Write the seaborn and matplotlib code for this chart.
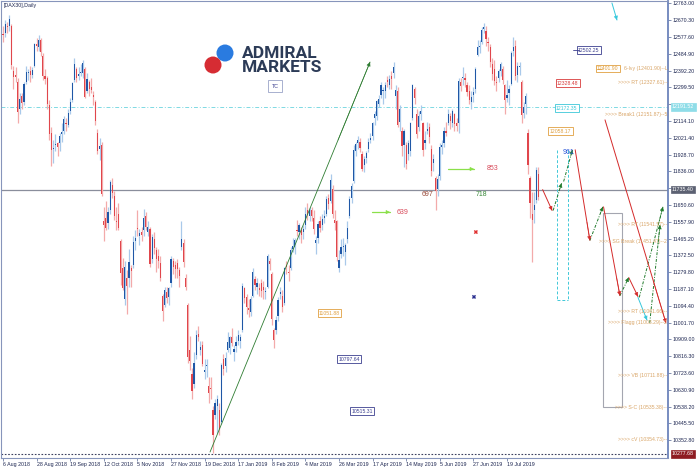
import numpy as np
import pandas as pd
import matplotlib
matplotlib.use('Agg')
import matplotlib.pyplot as plt
from matplotlib.patches import Ellipse, Rectangle
import seaborn as sns

# DAX30 daily candles, 6 Aug 2018 .. 9 Aug 2019
opens = [
    12590, 12600, 12640, 12640, 12640, 12390, 12370, 12330, 12180, 12250, 12220, 12330, 12380, 12390, 12370, 12420, 12540, 12520, 12560, 12470,
    12360, 12350, 12200, 12050, 11960, 11980, 11990, 11990, 12040, 12060, 12100, 12090, 12170, 12230, 12340, 12400, 12360, 12380, 12380, 12400,
    12280, 12330, 12300, 12260, 12220, 12050, 11960, 11980, 11560, 11580, 11550, 11620, 11760, 11700, 11560, 11600, 11450, 11300, 11130, 11250, 11250, 11300, 11320,
    11450, 11520, 11480, 11500, 11510, 11590, 11500, 11520, 11350, 11460, 11400, 11370, 11330, 11150, 11100, 11170, 11140, 11220, 11340, 11320, 11330, 11290,
    11420, 11440, 11250, 11100, 10850, 10720, 10660, 10820, 10940, 10850, 10880, 10730, 10760, 10650, 10640, 10520, 10490,
    10540, 10520, 10450, 10800, 10760, 10850, 10860, 10920, 10840, 10870, 10900, 10900, 10960, 11190, 11140, 11080, 11060, 11150, 11240, 11200, 11190, 11220,
    11200, 11170, 11200, 11340, 11270, 10960, 10960, 11040, 11160, 11150, 11110, 11320, 11280, 11300, 11410, 11420, 11510, 11500, 11510, 11500,
    11540, 11620, 11590, 11620, 11580, 11440, 11470, 11560, 11540, 11580, 11600, 11690, 11670, 11740, 11570, 11560, 11300, 11380, 11420, 11390, 11460,
    11590, 11690, 11780, 11950, 11990, 12000, 11930, 11870, 11910, 11960, 12010, 12030, 12130, 12140, 12210, 12260, 12280, 12280, 12340, 12310,
    12360, 12380, 12250, 12280, 12110, 12060, 11980, 11980, 11930, 11950, 12130, 12290, 12150, 12080, 12150, 12100, 11990, 12060, 12080, 11960, 11880, 11800,
    11740, 11810, 11970, 11990, 12060, 12100, 12140, 12100, 12150, 12100, 12100, 12330, 12350, 12350, 12310, 12280, 12220, 12260, 12290,
    12480, 12520, 12550, 12620, 12610, 12550, 12520, 12430, 12400, 12330, 12350, 12390, 12400, 12310, 12240, 12270, 12320, 12500, 12530, 12370, 12410, 12330, 12160,
    12210, 12050, 11800, 11600, 11620, 11680, 11820,
]
highs = [
    12640, 12670, 12660, 12700, 12650, 12420, 12410, 12350, 12270, 12270, 12330, 12420, 12400, 12420, 12410, 12545, 12570, 12590, 12570, 12490,
    12400, 12360, 12230, 12080, 12010, 12040, 12000, 12050, 12100, 12140, 12130, 12180, 12240, 12330, 12460, 12410, 12410, 12430, 12450, 12410,
    12380, 12340, 12350, 12280, 12230, 12070, 12020, 12000, 11640, 11670, 11640, 11790, 11800, 11730, 11640, 11660, 11460, 11360, 11340, 11290, 11410, 11320, 11480,
    11510, 11620, 11520, 11530, 11630, 11610, 11560, 11530, 11490, 11500, 11420, 11410, 11370, 11160, 11200, 11200, 11200, 11370, 11360, 11340, 11350, 11310,
    11560, 11460, 11270, 11110, 10930, 10750, 10840, 10960, 10980, 10900, 10900, 10800, 10800, 10700, 10700, 10540, 10580,
    10600, 10560, 10780, 10830, 10840, 10950, 10930, 10970, 10880, 10930, 10960, 10940, 11220, 11200, 11160, 11130, 11150, 11300, 11260, 11250, 11220, 11240,
    11230, 11200, 11380, 11360, 11280, 10970, 11040, 11140, 11200, 11180, 11310, 11340, 11320, 11420, 11470, 11470, 11570, 11550, 11530, 11540,
    11640, 11660, 11640, 11640, 11620, 11480, 11560, 11590, 11600, 11620, 11700, 11710, 11820, 11760, 11620, 11570, 11400, 11460, 11470, 11440, 11560,
    11700, 11770, 11980, 12000, 12030, 12020, 11950, 11920, 11950, 12020, 12050, 12110, 12170, 12230, 12260, 12330, 12300, 12330, 12360, 12370,
    12390, 12437, 12310, 12300, 12200, 12080, 12070, 12000, 12010, 12110, 12320, 12300, 12180, 12170, 12200, 12110, 12060, 12110, 12100, 11980, 11930, 11810,
    11820, 11990, 12010, 12080, 12110, 12180, 12160, 12180, 12160, 12130, 12350, 12350, 12410, 12380, 12330, 12310, 12280, 12300, 12410,
    12560, 12560, 12630, 12656, 12640, 12580, 12540, 12460, 12450, 12360, 12400, 12440, 12420, 12320, 12340, 12310, 12500, 12580, 12560, 12440, 12440, 12340, 12220,
    12270, 12070, 11810, 11720, 11720, 11860, 11860,
]
lows = [
    12550, 12580, 12600, 12610, 12400, 12290, 12330, 12105, 12150, 12180, 12200, 12320, 12340, 12330, 12350, 12410, 12500, 12500, 12470, 12340,
    12320, 12180, 12010, 11865, 11880, 11950, 11920, 11950, 12000, 12040, 12060, 12080, 12150, 12220, 12330, 12330, 12340, 12360, 12350, 12240,
    12270, 12250, 12270, 12200, 12090, 11930, 11900, 11700, 11450, 11510, 11520, 11600, 11690, 11570, 11510, 11510, 11210, 11180, 11100, 11050, 11200, 11200, 11300,
    11400, 11480, 11430, 11450, 11480, 11510, 11480, 11310, 11330, 11380, 11280, 11300, 11230, 11010, 11090, 11110, 11100, 11200, 11270, 11250, 11250, 11200,
    11400, 11310, 11180, 10780, 10740, 10580, 10640, 10800, 10900, 10820, 10760, 10690, 10700, 10560, 10580, 10279, 10470,
    10390, 10380, 10440, 10710, 10730, 10840, 10830, 10870, 10790, 10840, 10880, 10860, 10950, 11110, 11050, 11030, 11040, 11140, 11180, 11160, 11150, 11140,
    11130, 11130, 11190, 11290, 10990, 10860, 10940, 11010, 11130, 11060, 11100, 11270, 11230, 11290, 11390, 11380, 11480, 11460, 11440, 11460,
    11520, 11570, 11560, 11560, 11490, 11380, 11440, 11500, 11510, 11550, 11590, 11630, 11660, 11580, 11510, 11340, 11280, 11360, 11370, 11320, 11440,
    11580, 11660, 11770, 11920, 11960, 11940, 11840, 11830, 11880, 11940, 11990, 12010, 12090, 12120, 12190, 12240, 12210, 12240, 12300, 12290,
    12290, 12350, 12180, 12080, 12060, 11920, 11860, 11850, 11900, 11920, 12120, 12210, 12020, 12060, 12120, 11920, 11960, 12040, 11990, 11810, 11840, 11620,
    11700, 11790, 11930, 11970, 12030, 12090, 12070, 12080, 12060, 12060, 12050, 12280, 12310, 12300, 12250, 12210, 12180, 12220, 12270,
    12470, 12490, 12540, 12600, 12530, 12500, 12410, 12340, 12310, 12280, 12330, 12360, 12320, 12150, 12220, 12200, 12310, 12470, 12340, 12330, 12370, 12100, 12130,
    12150, 11820, 11580, 11335, 11550, 11660, 11680,
]
closes = [
    12588, 12648, 12634, 12677, 12425, 12358, 12358, 12163, 12237, 12211, 12318, 12384, 12386, 12365, 12395, 12538, 12527, 12562, 12494, 12364,
    12346, 12210, 12040, 11955, 11960, 11987, 11970, 12032, 12055, 12124, 12096, 12158, 12219, 12326, 12431, 12350, 12375, 12385, 12435, 12247,
    12346, 12288, 12287, 12244, 12112, 11947, 11977, 11712, 11539, 11524, 11614, 11777, 11716, 11589, 11554, 11524, 11274, 11191, 11307, 11201, 11335, 11287, 11448,
    11468, 11519, 11495, 11484, 11579, 11527, 11529, 11325, 11472, 11412, 11354, 11341, 11245, 11066, 11183, 11139, 11193, 11354, 11309, 11299, 11298, 11257,
    11465, 11335, 11200, 10811, 10788, 10622, 10780, 10931, 10924, 10866, 10772, 10741, 10766, 10611, 10634, 10382, 10559,
    10580, 10416, 10768, 10747, 10804, 10893, 10921, 10888, 10856, 10892, 10932, 10919, 11205, 11137, 11090, 11072, 11131, 11282, 11210, 11219, 11182, 11174,
    11181, 11177, 11368, 11325, 11022, 10907, 11014, 11127, 11168, 11090, 11300, 11309, 11277, 11402, 11424, 11458, 11506, 11541, 11487, 11516,
    11602, 11593, 11621, 11588, 11518, 11458, 11543, 11525, 11573, 11588, 11686, 11657, 11789, 11603, 11550, 11364, 11346, 11419, 11420, 11428, 11526,
    11682, 11755, 11954, 11988, 12010, 11964, 11850, 11906, 11935, 11999, 12021, 12101, 12153, 12222, 12236, 12313, 12282, 12315, 12329, 12345,
    12345, 12413, 12286, 12093, 12180, 11974, 12060, 11877, 11992, 12100, 12310, 12239, 12041, 12143, 12169, 11952, 12011, 12071, 12027, 11837, 11902, 11727,
    11792, 11971, 11980, 12060, 12045, 12155, 12116, 12170, 12096, 12086, 12332, 12309, 12355, 12340, 12274, 12228, 12246, 12272, 12399,
    12521, 12527, 12616, 12630, 12569, 12543, 12437, 12373, 12332, 12323, 12387, 12431, 12342, 12227, 12260, 12290, 12490, 12523, 12362, 12419, 12418, 12148, 12189,
    12253, 11872, 11659, 11568, 11650, 11845, 11694,
]

date_labels = ['6 Aug 2018', '28 Aug 2018', '19 Sep 2018', '12 Oct 2018', '5 Nov 2018', '27 Nov 2018',
               '19 Dec 2018', '17 Jan 2019', '8 Feb 2019', '4 Mar 2019', '26 Mar 2019', '17 Apr 2019',
               '14 May 2019', '5 Jun 2019', '27 Jun 2019', '19 Jul 2019']
price_ticks = [12763.00, 12670.30, 12577.60, 12484.90, 12392.20, 12299.50, 12206.80, 12114.10, 12021.40,
               11928.70, 11836.00, 11743.30, 11650.60, 11557.90, 11465.20, 11372.50, 11279.80, 11187.10,
               11094.40, 11001.70, 10909.00, 10816.30, 10723.60, 10630.90, 10538.20, 10445.50, 10352.80]

# horizontal levels
level_current = 11735.40
level_cyan = 12191.52
level_low = 10277.68

# level texts on the right (price, text)
fib_levels = [12401.90, 12327.61, 12151.87, 11541.57, 11451.47, 11061.66, 11003.29, 10711.88, 10535.38, 10354.73]
fib_texts = ['6-lvy (12401.90)--L', '>>>> RT (12327.61)--', '>>>> Break1 (12151.87)--5', '>>>> RT (11541.57)--',
             '>>>> SG Break (11451.47)--2', '>>>> RT (11061.66)--', '>>>> Flagg (11003.29)--2',
             '>>>> VB (10711.88)--', '>>>> S-C (10535.38)--', '>>>> cV (10354.73)--']

# boxed price tags inside the chart (bar, price, text, colour)
tag_bars = [279, 269, 268.5, 265.5, 155.5, 165, 171, 288]
tag_prices = [12505, 12323, 12185, 12058, 11054, 10800, 10513, 12403]
tag_texts = ['12502.25', '12328.48', '12172.35', '12058.17', '11051.88', '10797.64', '10515.31', '12401.90']
tag_colors = ['#3b3f8f', '#d83a3a', '#3cc8d8', '#e0a040', '#e0a040', '#3b3f8f', '#3b3f8f', '#e0a040']

# wave counts
count_bars = [187.6, 230.5, 199.5, 225.2, 266.7]
count_prices = [11611, 11849, 11706, 11706, 11942]
count_texts = ['639', '853', '697', '718', '961']
count_colors = ['#d84a5a', '#d84a5a', '#9a4a3a', '#3a8a3a', '#2a55d8']

# projected zig-zag (x0, y0, x1, y1, colour)
projection = [
    (257.0, 11735, 261.5, 11620, 'red'),
    (262.0, 11620, 266.0, 11770, 'green'),
    (267.0, 11780, 271.2, 11955, 'green'),
    (272.5, 11955, 279.5, 11455, 'red'),
    (279.5, 11455, 285.7, 11640, 'green'),
    (286.0, 11640, 293.8, 11150, 'red'),
    (293.8, 11150, 298.0, 11250, 'green'),
    (298.0, 11250, 302.4, 11145, 'red'),
    (303.0, 11140, 314.3, 11640, 'green'),
    (308.0, 11000, 312.9, 11540, 'green'),
    (286.7, 12120, 315.7, 11000, 'red'),
    (302.4, 11140, 306.7, 11015, 'cyan'),
    (290.0, 12765, 292.4, 12671, 'cyan'),
]
line_colors = {'red': '#d42a2a', 'green': '#1f7a2a', 'cyan': '#35c8dc'}

sns.set_theme(style='white')
plt.rcParams['font.family'] = ['Liberation Sans', 'DejaVu Sans']

df = pd.DataFrame({'open': opens, 'high': highs, 'low': lows, 'close': closes})
df['bar'] = np.arange(len(df))
up = df['close'] >= df['open']

fig = plt.figure(figsize=(7, 4.69), dpi=100)
ax = fig.add_axes([1 / 700, 11 / 469, 667 / 700, 457 / 469])
ax.set_facecolor('white')

# candles
for mask, wick_c, body_c in [(up, '#a9c9ea', '#1f57a6'), (~up, '#f3aaaa', '#e0464c')]:
    d = df[mask]
    ax.vlines(d['bar'], d['low'], d['high'], color=wick_c, lw=0.9, zorder=2)
    body = (d['close'] - d['open']).abs().clip(lower=6)
    ax.bar(d['bar'], body, bottom=d[['open', 'close']].min(axis=1), width=0.55,
           color=body_c, lw=0, zorder=3)

# horizontal levels
ax.axhline(level_current, color='#8a8e9c', lw=0.9, zorder=1)
ax.axhline(level_cyan, color='#7fd9e3', lw=0.7, ls=(0, (4, 2, 1, 2)), zorder=1)
ax.axhline(level_low, color='#3a3f5e', lw=0.8, ls=(0, (1.5, 1.5)), zorder=1)


def arrow(x0, y0, x1, y1, color, ls='-', lw=0.6):
    ax.plot([x0, x1], [y0, y1], color=color, lw=lw, ls=ls, zorder=5)
    ax.annotate('', xy=(x1, y1), xytext=(x0 + 0.8 * (x1 - x0), y0 + 0.8 * (y1 - y0)),
                arrowprops=dict(arrowstyle='-|>', color=color, lw=0.4, mutation_scale=6,
                                shrinkA=0, shrinkB=0), zorder=6)


# trend line from the December low
arrow(98.6, 10287, 174.8, 12439, '#2f7d32', lw=0.6)

# projection lines
for x0, y0, x1, y1, c in projection:
    ls = (0, (3, 1.5, 1, 1.5)) if c == 'green' else '-'
    arrow(x0, y0, x1, y1, line_colors[c], ls=ls, lw=0.7)

# cyan dashed box of the current swing
for xb in [263.8, 269.0]:
    ax.plot([xb, xb], [11953, 11127], color='#40c8d8', lw=0.7, ls=(0, (3, 2)), zorder=4)
ax.plot([263.8, 269.0], [11127, 11127], color='#40c8d8', lw=0.7, ls=(0, (3, 2)), zorder=4)

# grey target box
ax.add_patch(Rectangle((285.7, 10536), 9.1, 1069, fill=False, ec='#a4a6b0', lw=0.8, zorder=4))

# green pointers to wave counts
arrow(175.7, 11611, 184.3, 11611, '#8be04a', lw=0.9)
arrow(211.9, 11849, 224.3, 11849, '#8be04a', lw=0.9)
for b, p, t, c in zip(count_bars, count_prices, count_texts, count_colors):
    ax.text(b, p, t, color=c, fontsize=5, ha='left', va='center', zorder=7)

# small crosses
marks = pd.DataFrame({'bar': [225.2, 224.3], 'price': [11501, 11143], 'kind': ['r', 'b']})
sns.scatterplot(data=marks, x='bar', y='price', hue='kind', palette={'r': '#e03030', 'b': '#2a2f8f'},
                marker='X', s=9, linewidth=0, legend=False, ax=ax, zorder=7)
ax.set_xlabel('')
ax.set_ylabel('')

# fib level texts
for p, t in zip(fib_levels, fib_texts):
    ax.text(316.4, p, t, color='#d9a567', fontsize=3.7, ha='right', va='center', zorder=7, clip_on=True)

# boxed tags
for b, p, t, c in zip(tag_bars, tag_prices, tag_texts, tag_colors):
    ax.text(b, p, t, color=c, fontsize=3.7, ha='center', va='center', zorder=8,
            bbox=dict(boxstyle='square,pad=0.25', fc='white', ec=c, lw=0.6))
ax.plot([271.5, 274.3], [12505, 12505], color='#3b3f8f', lw=0.6, zorder=8)
ax.plot([283, 285.5], [12403, 12403], color='#e0a040', lw=0.6, zorder=8)

# axes
ax.set_xlim(-0.95, 316.7)
ax.set_ylim(10254, 12776)
ax.set_xticks(np.arange(0, 241, 16))
ax.set_xticklabels(date_labels, ha='left', fontsize=3.8, color='#1c2550')
ax.yaxis.tick_right()
ax.set_yticks(price_ticks)
# labels hidden under the price tags
hidden = {12206.80, 11743.30}
ax.set_yticklabels(['' if v in hidden else f'{v:.2f}' for v in price_ticks], fontsize=3.8, color='#1c2550')
ax.tick_params(axis='both', length=2, width=0.6, color='#6f7fa5', pad=1.5)
ax.tick_params(axis='x', bottom=True, pad=0.8)
ax.tick_params(axis='y', right=True)
for s in ax.spines.values():
    s.set_color('#8795bb')
    s.set_linewidth(0.8)
ax.spines['right'].set_color('#6c84bb')
ax.spines['right'].set_linewidth(1.3)

# price tags on the axis
for p, t, fc in [(level_cyan, '12191.52', '#8fdde8'), (level_current, '11735.40', '#5c6172'),
                 (level_low, '10277.68', '#8e1c22')]:
    ax.text(1.006, p, t, transform=ax.get_yaxis_transform(), fontsize=3.8, color='white',
            ha='left', va='center', zorder=9, clip_on=False,
            bbox=dict(boxstyle='square,pad=0.25', fc=fc, ec=fc, lw=0.5))

# header and logo
fig.text(4 / 700, 1 - 6 / 469, '[DAX30],Daily', fontsize=3.8, color='#1c2550', va='center')
fig.add_artist(Ellipse((225 / 700, 1 - 53 / 469), 17 / 700, 17 / 469, transform=fig.transFigure,
                       fc='#2a7be0', ec='none'))
fig.add_artist(Ellipse((213 / 700, 1 - 65 / 469), 17 / 700, 17 / 469, transform=fig.transFigure,
                       fc='#d62c33', ec='none'))
fig.text(242 / 700, 1 - 53 / 469, 'ADMIRAL', fontsize=12.5, weight='bold', color='#2c3b57',
         va='center', family='Roboto')
fig.text(242 / 700, 1 - 67 / 469, 'MARKETS', fontsize=12.5, weight='bold', color='#2c3b57',
         va='center', family='Roboto')
fig.text(275 / 700, 1 - 86 / 469, 'TC', fontsize=3.8, color='#3b3f8f', ha='center', va='center',
         bbox=dict(boxstyle='square,pad=0.6', fc='white', ec='#9aa3c8', lw=0.6))

fig.savefig('out.png', dpi=100)
